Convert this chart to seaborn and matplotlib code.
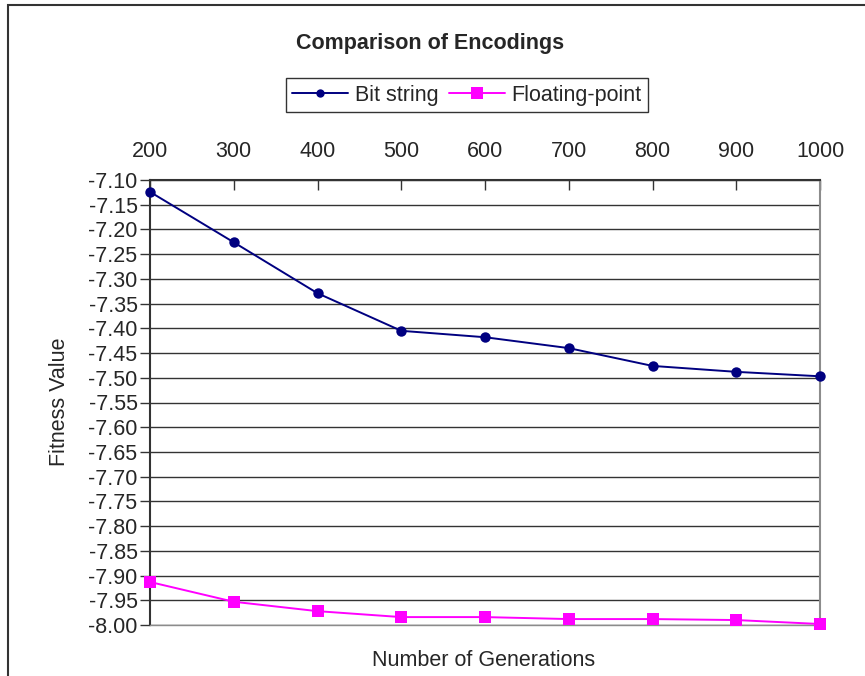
import matplotlib
matplotlib.use("Agg")
import matplotlib.pyplot as plt
import seaborn as sns
import pandas as pd
from matplotlib.patches import Rectangle

generations = [200, 300, 400, 500, 600, 700, 800, 900, 1000]
bit_string = [-7.124, -7.226, -7.329, -7.405, -7.418, -7.440, -7.476, -7.488, -7.497]
floating_point = [-7.913, -7.953, -7.972, -7.984, -7.984, -7.988, -7.988, -7.990, -7.998]
series_names = ["Bit string", "Floating-point"]
y_ticks = [round(-7.10 - 0.05 * i, 2) for i in range(19)]

df = pd.DataFrame({
    "Generations": generations * 2,
    "Fitness": bit_string + floating_point,
    "Series": [series_names[0]] * len(generations) + [series_names[1]] * len(generations),
})

sns.set_theme(style="white")
plt.rcParams['font.family'] = ['Liberation Sans', 'DejaVu Sans']

fig = plt.figure(figsize=(8.65, 6.76), dpi=100)
ax = fig.add_axes([150 / 865, 1 - 625 / 676, 670 / 865, 445 / 676])

palette = {series_names[0]: "#000080", series_names[1]: "#FF00FF"}
markers = {series_names[0]: "o", series_names[1]: "s"}
sns.lineplot(data=df, x="Generations", y="Fitness", hue="Series", style="Series",
             palette=palette, markers=markers, dashes=False, ax=ax,
             linewidth=1.4, markeredgewidth=0, legend=False)
for line, ms in zip(ax.lines, [7.5, 9]):
    line.set_markersize(ms)
    line.set_clip_on(False)
    line.set_zorder(5)

ax.set_xlim(200, 1000)
ax.set_ylim(-8.00, -7.10)
ax.set_xticks(generations)
ax.set_xticklabels([str(g) for g in generations])
ax.set_yticks(y_ticks)
ax.set_yticklabels([f"{v:.2f}" for v in y_ticks])
ax.xaxis.tick_top()
ax.tick_params(axis="x", direction="in", length=7, width=1, color="#333333",
               labelsize=15.5, pad=13, top=True, bottom=False)
ax.tick_params(axis="y", direction="out", length=7, width=1, color="#333333",
               labelsize=15.5, pad=2, left=True)
ax.yaxis.grid(True, color="#333333", linewidth=1)
ax.xaxis.grid(False)
ax.set_axisbelow(True)
for side in ["top", "left"]:
    ax.spines[side].set_color("#333333")
    ax.spines[side].set_linewidth(1.5)
ax.spines["right"].set_color("#8c8c8c")
ax.spines["right"].set_linewidth(1.5)
ax.spines["bottom"].set_color("#8c8c8c")
ax.spines["bottom"].set_linewidth(1)

ax.set_xlabel("")
ax.set_ylabel("")
fig.text(484 / 865, 1 - 660 / 676, "Number of Generations", ha="center", va="center", fontsize=15.5)
fig.text(60 / 865, 1 - 402 / 676, "Fitness Value", ha="center", va="center", rotation=90, fontsize=15.5)
fig.text(430 / 865, 1 - 43 / 676, "Comparison of Encodings", ha="center", va="center",
         fontsize=15.5, fontweight="bold")

handles = [
    plt.Line2D([], [], color="#000080", marker="o", markersize=6, linewidth=1.4, markeredgewidth=0),
    plt.Line2D([], [], color="#FF00FF", marker="s", markersize=8, linewidth=1.4, markeredgewidth=0),
]
leg = fig.legend(handles, series_names, loc="center", bbox_to_anchor=(467 / 865, 1 - 95 / 676),
                 ncol=2, frameon=True, fancybox=False, fontsize=15.5, handlelength=2.6,
                 columnspacing=0.5, handletextpad=0.3, borderpad=0.3)
leg.get_frame().set_edgecolor("black")
leg.get_frame().set_linewidth(1)

fig.add_artist(Rectangle((8 / 865, -0.1), 1.2, 1.1 - 5 / 676, transform=fig.transFigure,
                         fill=False, edgecolor="#333333", linewidth=1.5))

fig.savefig("out.png", dpi=100)
